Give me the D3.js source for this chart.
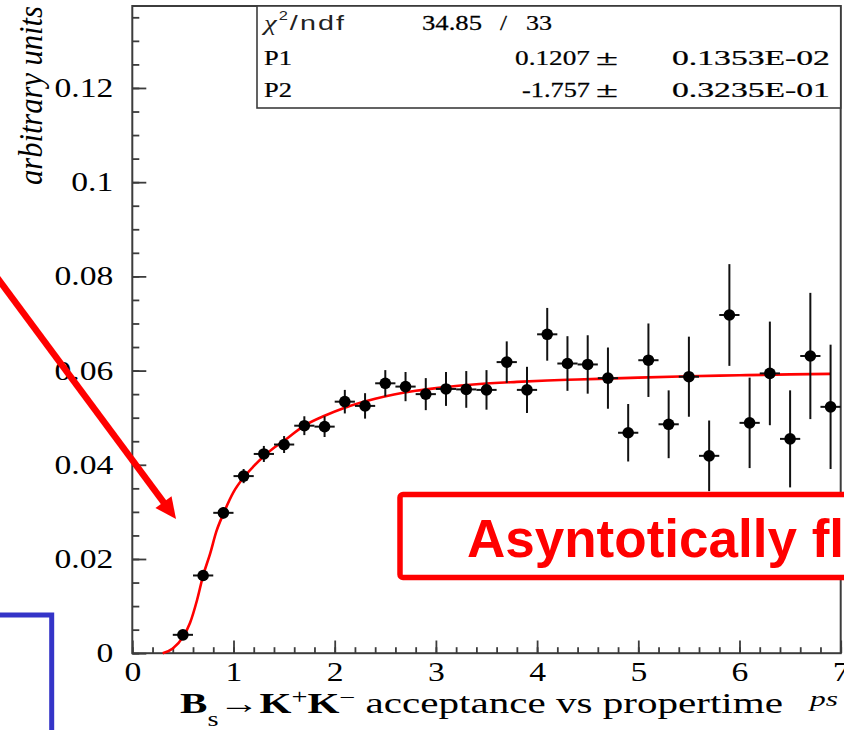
<!DOCTYPE html>
<html>
<head>
<meta charset="utf-8">
<script src="https://cdn.jsdelivr.net/npm/d3@7"></script>
<style>
  html, body { margin: 0; padding: 0; background: #fff; overflow: hidden; }
  svg { display: block; }
</style>
</head>
<body>
<svg id="chart" width="844" height="730"></svg>
<script>
// Bs -> K+K- acceptance versus proper time (ps), 0.2 ps bins
const binCentres = [0.5, 0.7, 0.9, 1.1, 1.3, 1.5, 1.7, 1.9, 2.1, 2.3, 2.5, 2.7, 2.9, 3.1, 3.3, 3.5, 3.7,
                    3.9, 4.1, 4.3, 4.5, 4.7, 4.9, 5.1, 5.3, 5.5, 5.7, 5.9, 6.1, 6.3, 6.5, 6.7, 6.9];
const acceptance = [0.0039, 0.0165, 0.0298, 0.0376, 0.0423, 0.0443, 0.0483, 0.0481, 0.0534, 0.0525, 0.0573,
                    0.0566, 0.0550, 0.0561, 0.0560, 0.0559, 0.0618, 0.0559, 0.0677, 0.0615, 0.0613, 0.0584,
                    0.0468, 0.0622, 0.0486, 0.0587, 0.0419, 0.0718, 0.0489, 0.0594, 0.0455, 0.0631, 0.0523];
const acceptanceErr = [0.0006, 0.0010, 0.0012, 0.0015, 0.0017, 0.0018, 0.0020, 0.0022, 0.0025, 0.0027, 0.0028,
                       0.0031, 0.0034, 0.0036, 0.0039, 0.0042, 0.0044, 0.0049, 0.0056, 0.0058, 0.0062, 0.0065,
                       0.0061, 0.0078, 0.0072, 0.0085, 0.0075, 0.0108, 0.0096, 0.0110, 0.0103, 0.0134, 0.0132];
const binHalfWidth = 0.1;

// fitted acceptance curve, sampled
const fitTime  = [0.30, 0.40, 0.50, 0.57, 0.64, 0.70, 0.77, 0.83, 0.90, 1.00, 1.10, 1.20, 1.30, 1.40, 1.50,
                  1.70, 1.90, 2.10, 2.40, 2.80, 3.10, 3.40, 3.80, 4.10, 4.40, 5.00, 5.50, 6.00, 6.50, 6.90];
const fitValue = [0.0000, 0.0010, 0.0034, 0.0064, 0.0113, 0.0165, 0.0212, 0.0258, 0.0296, 0.0342, 0.0373,
                  0.0397, 0.0418, 0.0436, 0.0451, 0.0483, 0.0504, 0.0521, 0.0540, 0.0557, 0.0565, 0.0571,
                  0.0576, 0.0579, 0.0581, 0.0585, 0.0588, 0.0590, 0.0592, 0.0593];

// axis ticks
const xTickValues = [0, 1, 2, 3, 4, 5, 6, 7];
const yTickValues = [0, 0.02, 0.04, 0.06, 0.08, 0.1, 0.12];

// fit statistics box
const chi2Value = "34.85";
const ndfValue = "33";
const parNames = ["P1", "P2"];
const parValues = ["0.1207", "-1.757"];
const parErrors = ["0.1353E-02", "0.3235E-01"];

const SERIF = "'Liberation Serif', 'DejaVu Serif', serif";
const SANS = "'Liberation Sans', 'DejaVu Sans', sans-serif";
const AXIS_COL = "#3c3c3c";

const svg = d3.select("#chart");
const x = d3.scaleLinear().domain([0, 7]).range([132.3, 840.7]);
const y = d3.scaleLinear().domain([0, 0.1374]).range([653.2, 6]);

// squeeze or stretch a text node horizontally so it spans [x0, x1]
function spanText(parent, x0, x1, baseline, build) {
  const g = parent.append("g").attr("transform", `translate(${x0},${baseline})`);
  const t = g.append("text").attr("x", 0).attr("y", 0);
  build(t);
  const w = t.node().getComputedTextLength();
  t.attr("transform", `scale(${(x1 - x0) / w},1)`);
  return t;
}

// frame
svg.append("rect")
  .attr("x", x(0)).attr("y", y(0.1374))
  .attr("width", x(7) - x(0)).attr("height", y(0) - y(0.1374))
  .attr("fill", "none").attr("stroke", AXIS_COL).attr("stroke-width", 2);

// x axis: minor and major ticks
const gxMinor = svg.append("g").attr("transform", `translate(0,${y(0)})`)
  .call(d3.axisBottom(x).tickValues(d3.range(0, 7.001, 0.2)).tickSize(-6).tickFormat(""));
const gxMajor = svg.append("g").attr("transform", `translate(0,${y(0)})`)
  .call(d3.axisBottom(x).tickValues(xTickValues).tickSize(-12.7).tickPadding(9).tickFormat(d3.format("d")));

// y axis: minor and major ticks
const gyMinor = svg.append("g").attr("transform", `translate(${x(0)},0)`)
  .call(d3.axisLeft(y).tickValues(d3.range(0, 0.1371, 0.005)).tickSize(-7).tickFormat(""));
const gyMajor = svg.append("g").attr("transform", `translate(${x(0)},0)`)
  .call(d3.axisLeft(y).tickValues(yTickValues).tickSize(-14).tickPadding(19)
        .tickFormat(d => String(+d.toFixed(2))));

[gxMinor, gxMajor, gyMinor, gyMajor].forEach(g => {
  g.select(".domain").remove();
  g.selectAll(".tick line").attr("stroke", AXIS_COL).attr("stroke-width", 1.8);
});
const LABEL_SX = 1.27;
gxMajor.selectAll(".tick text")
  .attr("font-family", SERIF).attr("font-size", 26.5).attr("fill", "#000")
  .attr("transform", `scale(${LABEL_SX},1)`);
gyMajor.selectAll(".tick text")
  .attr("font-family", SERIF).attr("font-size", 26.5).attr("fill", "#000")
  .attr("x", -19 / LABEL_SX)
  .attr("transform", `scale(${LABEL_SX},1)`);

// y title
{
  const g = svg.append("g").attr("transform", "translate(42,185) rotate(-90)");
  const t = g.append("text").attr("font-family", SERIF).attr("font-style", "italic")
    .attr("font-size", 33).attr("fill", "#000").text("arbitrary units");
  const w = t.node().getComputedTextLength();
  t.attr("transform", `scale(${179 / w},1)`);
}

// x title
spanText(svg, 180, 783, 713, t => {
  t.attr("font-family", SERIF).attr("font-size", 29).attr("fill", "#000");
  t.append("tspan").attr("font-weight", "bold").text("B");
  t.append("tspan").attr("font-size", 20).attr("dy", 13).text("s");
  t.append("tspan").attr("dy", -13).text("\u2192");
  t.append("tspan").attr("font-weight", "bold").text("K");
  t.append("tspan").attr("font-size", 20).attr("dy", -9).text("+");
  t.append("tspan").attr("font-weight", "bold").attr("dy", 9).text("K");
  t.append("tspan").attr("font-size", 20).attr("dy", -9).text("\u2212");
  t.append("tspan").attr("dy", 9).text(" acceptance vs propertime");
});
spanText(svg, 810, 838, 706, t => {
  t.attr("font-family", SERIF).attr("font-style", "italic").attr("font-size", 22)
   .attr("fill", "#000").text("ps");
});

// fitted curve
const fitPoints = fitTime.map((t, i) => [t, fitValue[i]]);
svg.append("path")
  .datum(fitPoints)
  .attr("fill", "none").attr("stroke", "#ff0000").attr("stroke-width", 2.6)
  .attr("d", d3.line().x(d => x(d[0])).y(d => y(d[1])).curve(d3.curveMonotoneX));

// data points with error bars
const pts = binCentres.map((t, i) => ({ t, v: acceptance[i], e: acceptanceErr[i] }));
const gp = svg.append("g");
gp.selectAll("line.ey").data(pts).join("line").attr("class", "ey")
  .attr("x1", d => x(d.t)).attr("x2", d => x(d.t))
  .attr("y1", d => y(d.v - d.e)).attr("y2", d => y(d.v + d.e))
  .attr("stroke", "#111").attr("stroke-width", 2);
gp.selectAll("line.ex").data(pts).join("line").attr("class", "ex")
  .attr("x1", d => x(d.t - binHalfWidth)).attr("x2", d => x(d.t + binHalfWidth))
  .attr("y1", d => y(d.v)).attr("y2", d => y(d.v))
  .attr("stroke", "#111").attr("stroke-width", 2);
gp.selectAll("circle").data(pts).join("circle")
  .attr("cx", d => x(d.t)).attr("cy", d => y(d.v)).attr("r", 5.8)
  .attr("fill", "#000");

// fit statistics box
const STAT_FS = 22;
const statsBox = svg.append("g");
statsBox.append("rect")
  .attr("x", 257).attr("y", 6).attr("width", 840.7 - 257).attr("height", 102)
  .attr("fill", "#fff").attr("stroke", AXIS_COL).attr("stroke-width", 1.6);
spanText(statsBox, 264, 346, 30, t => {
  t.attr("font-size", 21).attr("fill", "#222").attr("letter-spacing", 1.5);
  t.append("tspan").attr("font-family", SERIF).attr("font-style", "italic").text("\u03c7");
  t.append("tspan").attr("font-family", SANS).attr("font-size", 12).attr("dy", -10).text("2");
  t.append("tspan").attr("font-family", SANS).attr("dy", 10).text("/ndf");
});
const serifStat = s => t => t.attr("font-family", SERIF).attr("font-size", STAT_FS).attr("fill", "#000")
  .attr("stroke", "#000").attr("stroke-width", 0.25).text(s);
spanText(statsBox, 422, 482, 30, serifStat(chi2Value));
spanText(statsBox, 500, 507, 30, serifStat("/"));
spanText(statsBox, 526, 552, 30, serifStat(ndfValue));
const rowBase = [65, 97];
const valueSpan = [[515, 590], [522, 590]];
parNames.forEach((name, i) => {
  spanText(statsBox, 264, 292, rowBase[i], serifStat(name));
  spanText(statsBox, valueSpan[i][0], valueSpan[i][1], rowBase[i], serifStat(parValues[i]));
  spanText(statsBox, 596, 618, rowBase[i], serifStat("\u00b1"));
  spanText(statsBox, 672, 830, rowBase[i], serifStat(parErrors[i]));
});

// annotation box
svg.append("rect")
  .attr("x", 400).attr("y", 494.5).attr("width", 520).attr("height", 83).attr("rx", 3)
  .attr("fill", "#fff").attr("stroke", "#ff0000").attr("stroke-width", 5.5);
{
  const g = svg.append("g").attr("transform", "translate(467,556.5)");
  const t = g.append("text").attr("font-family", SANS).attr("font-weight", "bold")
    .attr("font-size", 54).attr("fill", "#ff0000").text("Asyntotically flat");
  const w = t.node().getSubStringLength(0, 13);
  t.attr("transform", `scale(${330 / w},1)`);
}

// arrow pointing at the turn-on region
{
  const tip = [176, 519], from = [-10, 268];
  const dx = tip[0] - from[0], dy = tip[1] - from[1];
  const len = Math.hypot(dx, dy), ux = dx / len, uy = dy / len;
  const headLen = 21, headHalf = 10;
  const base = [tip[0] - ux * headLen, tip[1] - uy * headLen];
  svg.append("line")
    .attr("x1", from[0]).attr("y1", from[1]).attr("x2", base[0] + ux * 2).attr("y2", base[1] + uy * 2)
    .attr("stroke", "#ff0000").attr("stroke-width", 6.5);
  svg.append("path")
    .attr("d", `M${tip[0]},${tip[1]} L${base[0] - uy * headHalf},${base[1] + ux * headHalf} ` +
               `L${base[0] + uy * headHalf},${base[1] - ux * headHalf} Z`)
    .attr("fill", "#ff0000");
}

// blue outline in the lower-left corner
svg.append("path")
  .attr("d", "M-5,615 H51.7 V740")
  .attr("fill", "none").attr("stroke", "#3434c8").attr("stroke-width", 5);
</script>
</body>
</html>
